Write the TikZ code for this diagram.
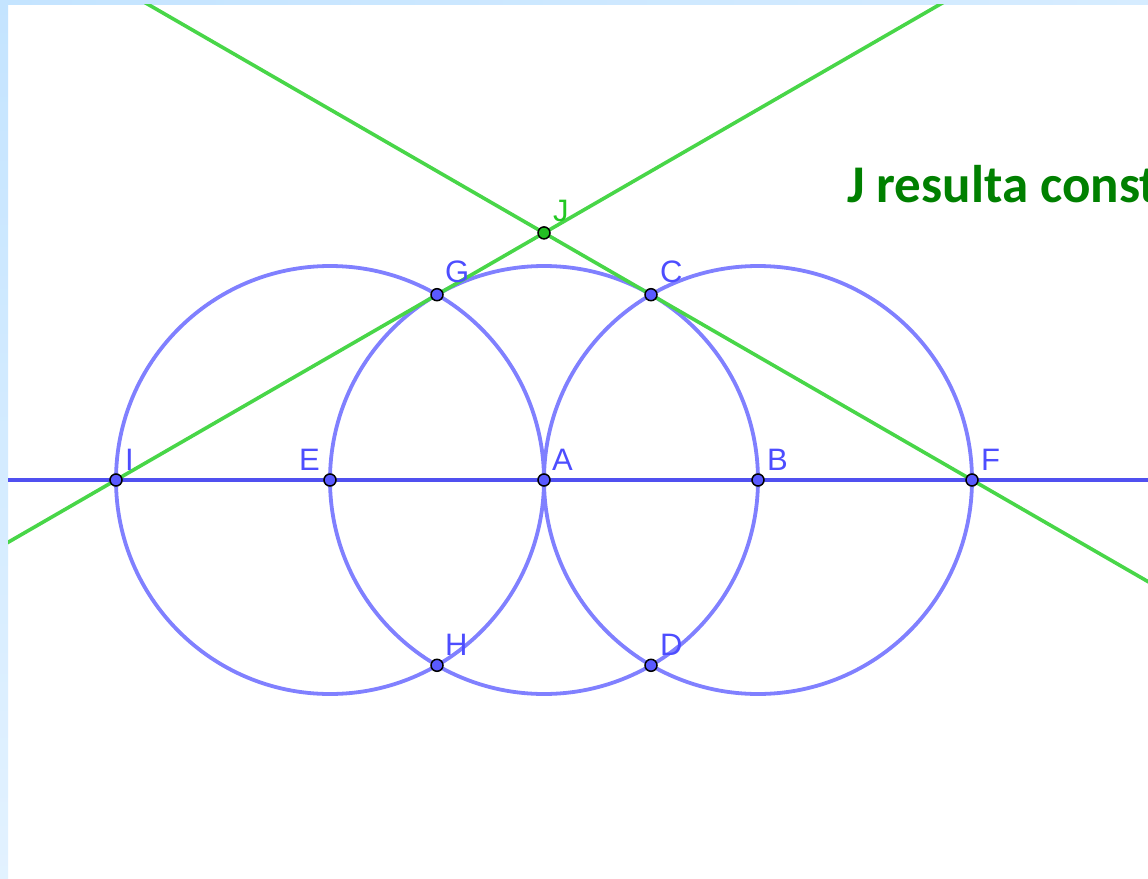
\documentclass[tikz,border=0pt]{standalone}
\usepackage{fontspec}
\setmainfont{Liberation Sans}
\newfontfamily\calib{Carlito}
\usetikzlibrary{calc}
\definecolor{stripL}{RGB}{196,228,255}
\definecolor{stripR}{RGB}{214,236,255}
\definecolor{circblue}{RGB}{128,128,255}
\definecolor{lineblue}{RGB}{80,80,240}
\definecolor{ggreen}{RGB}{72,214,72}
\definecolor{ptblue}{RGB}{90,90,255}
\definecolor{ptgreen}{RGB}{34,190,34}
\definecolor{lblblue}{RGB}{77,77,255}
\definecolor{lblgreen}{RGB}{34,200,34}
\definecolor{txtgreen}{RGB}{0,128,0}
\tikzset{
  circ/.style={draw=circblue, line width=3.8pt},
  blueline/.style={draw=lineblue, line width=4pt},
  greenline/.style={draw=ggreen, line width=3.6pt},
  ptb/.style={circle, draw=black, line width=1.5pt, fill=ptblue, minimum size=12pt, inner sep=0pt},
  ptg/.style={circle, draw=black, line width=1.5pt, fill=ptgreen, minimum size=12pt, inner sep=0pt},
  lbl/.style={text=lblblue, font=\fontsize{31}{31}\selectfont, inner sep=0pt, anchor=south west},
  lblg/.style={text=lblgreen, font=\fontsize{31}{31}\selectfont, inner sep=0pt, anchor=south west}
}
\begin{document}
\begin{tikzpicture}[x=1pt,y=-1pt]
\useasboundingbox (0,0) rectangle (1148,878);
\clip (0,0) rectangle (1148,878);
% background strips
\fill[white] (0,0) rectangle (1148,878);
\shade[left color=stripL, right color=stripR] (0,0) rectangle (1148,4);
\shade[top color=stripL, bottom color=stripR!70!white] (0,0) rectangle (8,878);
\begin{scope}
\clip (8,4) rectangle (1148,878);
% point positions
\coordinate (pI) at (116,480);
\coordinate (pE) at (330,480);
\coordinate (pA) at (544,480);
\coordinate (pB) at (758,480);
\coordinate (pF) at (972,480);
\coordinate (pG) at (437,294.7);
\coordinate (pC) at (651,294.7);
\coordinate (pH) at (437,665.3);
\coordinate (pD) at (651,665.3);
\coordinate (pJ) at (544,232.9);
% circles
\draw[circ] (pE) circle (214);
\draw[circ] (pA) circle (214);
\draw[circ] (pB) circle (214);
% green lines
\coordinate (g1a) at ($(pI)!-0.5!(pG)$);
\coordinate (g1b) at ($(pI)!2.8!(pG)$);
\coordinate (g2a) at ($(pF)!-0.7!(pC)$);
\coordinate (g2b) at ($(pF)!2.8!(pC)$);
\draw[greenline] (g1a) -- (g1b);
\draw[greenline] (g2a) -- (g2b);
% blue line
\coordinate (bl1) at (0,480);
\coordinate (bl2) at (1160,480);
\draw[blueline] (bl1) -- (bl2);
% points
\node[ptb] (I) at (pI) {};
\node[ptb] (E) at (pE) {};
\node[ptb] (A) at (pA) {};
\node[ptb] (B) at (pB) {};
\node[ptb] (F) at (pF) {};
\node[ptb] (G) at (pG) {};
\node[ptb] (C) at (pC) {};
\node[ptb] (H) at (pH) {};
\node[ptb] (D) at (pD) {};
\node[ptg] (J) at (pJ) {};
% labels
\node[lbl] (lI) at ($(pI)+(9,-9)$) {I};
\node[lbl, anchor=south east] (lE) at ($(pE)+(-10,-9)$) {E};
\node[lbl] (lA) at ($(pA)+(8,-9)$) {A};
\node[lbl] (lB) at ($(pB)+(9,-9)$) {B};
\node[lbl] (lF) at ($(pF)+(9,-9)$) {F};
\node[lbl] (lG) at ($(pG)+(8,-12)$) {G};
\node[lbl] (lC) at ($(pC)+(9,-12)$) {C};
\node[lbl] (lH) at ($(pH)+(8,-10)$) {H};
\node[lbl] (lD) at ($(pD)+(9,-10)$) {D};
\node[lblg] (lJ) at ($(pJ)+(9,-11)$) {J};
% title text
\node[anchor=base west, inner sep=0pt, text=txtgreen, font=\calib\bfseries\fontsize{53}{53}\selectfont] (title) at (847,202) {J resulta const};
\end{scope}
\end{tikzpicture}
\end{document}
